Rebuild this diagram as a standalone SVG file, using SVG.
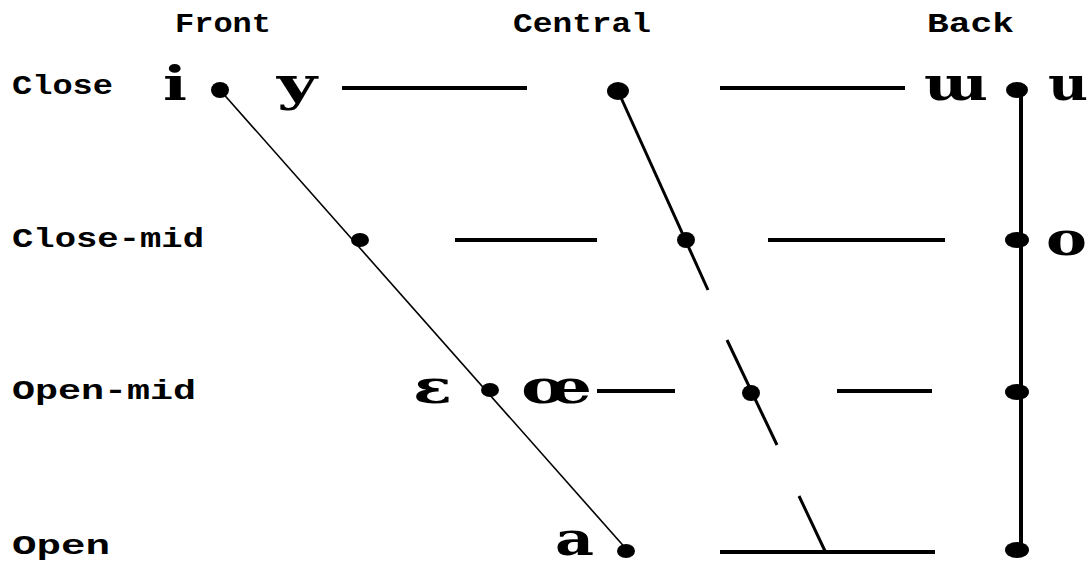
<svg xmlns="http://www.w3.org/2000/svg" width="1092" height="566" viewBox="0 0 1092 566">
<style>
.lbl{font-family:"Liberation Mono","DejaVu Sans Mono",monospace;font-weight:bold;font-size:28px;fill:#000}
.sym{font-family:"DejaVu Serif","Liberation Serif",serif;font-weight:bold;font-size:47px;fill:#000}
.dot{fill:#000}
.h{stroke:#000;stroke-width:4;fill:none}
.diag{stroke:#000;stroke-width:1.6;fill:none}
.dash{stroke:#000;stroke-width:3;fill:none}
</style>
<rect width="1092" height="566" fill="#fff"/>
<g id="headers">
<text class="lbl" x="175" y="32" textLength="96" lengthAdjust="spacingAndGlyphs">Front</text>
<text class="lbl" x="513" y="32" textLength="138" lengthAdjust="spacingAndGlyphs">Central</text>
<text class="lbl" x="927" y="32" textLength="87" lengthAdjust="spacingAndGlyphs">Back</text>
</g>
<g id="rows">
<text class="lbl" x="12" y="94" textLength="101" lengthAdjust="spacingAndGlyphs">Close</text>
<text class="lbl" x="12" y="247" textLength="192" lengthAdjust="spacingAndGlyphs">Close-mid</text>
<text class="lbl" x="12" y="399" textLength="184" lengthAdjust="spacingAndGlyphs">Open-mid</text>
<text class="lbl" x="12" y="554" textLength="98" lengthAdjust="spacingAndGlyphs">Open</text>
</g>
<g id="connectors">
<line class="h" x1="342" y1="88" x2="527" y2="88"/>
<line class="h" x1="720" y1="88" x2="905" y2="88"/>
<line class="h" x1="455" y1="240" x2="597" y2="240"/>
<line class="h" x1="768" y1="240" x2="945" y2="240"/>
<line class="h" x1="597" y1="391" x2="675" y2="391"/>
<line class="h" x1="837" y1="391" x2="932" y2="391"/>
<line class="h" x1="720" y1="552" x2="935" y2="552"/>
<line class="h" x1="1021" y1="90" x2="1021" y2="550"/>
<line class="diag" x1="220" y1="90" x2="628" y2="551"/>
<line class="dash" x1="618" y1="91" x2="708" y2="290"/>
<line class="dash" x1="727" y1="340" x2="777" y2="445"/>
<line class="dash" x1="799" y1="496" x2="825" y2="551"/>
</g>
<g id="v-i"><text class="sym" x="163" y="100" textLength="24" lengthAdjust="spacingAndGlyphs">i</text><ellipse class="dot" cx="220" cy="90" rx="9" ry="8"/></g>
<g id="v-y"><text class="sym" x="277" y="100" textLength="40" lengthAdjust="spacingAndGlyphs">y</text></g>
<g id="v-close-central"><ellipse class="dot" cx="618" cy="91" rx="11" ry="9"/></g>
<g id="v-ɯ"><text class="sym" x="924" y="100" textLength="64" lengthAdjust="spacingAndGlyphs">ɯ</text></g>
<g id="v-close-back"><ellipse class="dot" cx="1017" cy="90" rx="11" ry="8"/></g>
<g id="v-u"><text class="sym" x="1048" y="100" textLength="40" lengthAdjust="spacingAndGlyphs">u</text></g>
<g id="v-closemid-front"><ellipse class="dot" cx="360" cy="240" rx="9" ry="7"/></g>
<g id="v-closemid-central"><ellipse class="dot" cx="686" cy="240" rx="9" ry="8"/></g>
<g id="v-closemid-back"><ellipse class="dot" cx="1017" cy="240" rx="12" ry="8"/></g>
<g id="v-o"><text class="sym" x="1046" y="255" textLength="41" lengthAdjust="spacingAndGlyphs">o</text></g>
<g id="v-ɛ"><text class="sym" x="413" y="403" textLength="39" lengthAdjust="spacingAndGlyphs">ɛ</text></g>
<g id="v-openmid-front"><ellipse class="dot" cx="490" cy="390" rx="9" ry="7"/></g>
<g id="v-œ"><text class="sym" x="521" y="403" textLength="71" lengthAdjust="spacingAndGlyphs">œ</text></g>
<g id="v-openmid-central"><ellipse class="dot" cx="751" cy="393" rx="9" ry="8"/></g>
<g id="v-openmid-back"><ellipse class="dot" cx="1017" cy="392" rx="12" ry="8"/></g>
<g id="v-a"><text class="sym" x="555" y="555" textLength="39" lengthAdjust="spacingAndGlyphs" style="font-size:46px">a</text></g>
<g id="v-open-front"><ellipse class="dot" cx="626" cy="551" rx="9" ry="7"/></g>
<g id="v-open-back"><ellipse class="dot" cx="1017" cy="550" rx="12" ry="8"/></g>
</svg>
